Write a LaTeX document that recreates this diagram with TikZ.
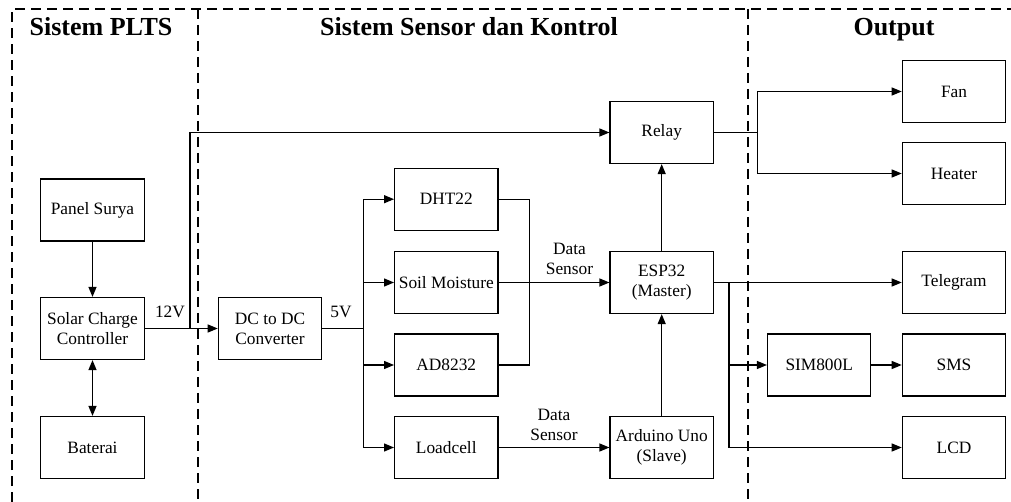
\documentclass[tikz,border=0pt]{standalone}
\usepackage{fontspec}
\setmainfont{Liberation Serif}
\usetikzlibrary{arrows.meta}
\begin{document}
\begin{tikzpicture}[x=0.75pt,y=-0.75pt,
  blk/.style={draw,line width=0.9pt,minimum width=77.5pt,minimum height=46.5pt,inner sep=1pt,align=center,font=\fontsize{13}{15}\selectfont},
  wire/.style={line width=0.9pt},
  arr/.style={wire,-{Triangle[length=7.5pt,width=6pt]}},
  darr/.style={wire,{Triangle[length=7.5pt,width=6pt]}-{Triangle[length=7.5pt,width=6pt]}},
  frame/.style={line width=0.8pt,dash pattern=on 7.5pt off 4.5pt},
  ttl/.style={font=\fontsize{19.5}{22}\selectfont\bfseries,anchor=base},
  lbl/.style={font=\fontsize{13}{15.5}\selectfont,align=center}]
\useasboundingbox (0,0) rectangle (1011,502);
% frame
\draw[frame] (12,502) -- (12,9) -- (1011,9);
\draw[frame] (198,9) -- (198,502);
\draw[frame] (748,9) -- (748,502);
\node[ttl] (t1) at (101,36) {Sistem PLTS};
\node[ttl] (t2) at (469,36) {Sistem Sensor dan Kontrol};
\node[ttl] (t3) at (894,36) {Output};
% blocks
\node[blk] (panel) at (92.5,210) {Panel Surya};
\node[blk] (scc) at (92.5,328.5) {Solar Charge\\Controller};
\node[blk] (bat) at (92.5,447.5) {Baterai};
\node[blk] (dcdc) at (270,328.5) {DC to DC\\Converter};
\node[blk] (dht) at (446.3,199.2) {DHT22};
\node[blk] (soil) at (446.3,282.5) {Soil Moisture};
\node[blk] (ad) at (446.3,365) {AD8232};
\node[blk] (load) at (446.3,447.5) {Loadcell};
\node[blk] (relay) at (661.7,132.5) {Relay};
\node[blk] (esp) at (661.7,282.5) {ESP32\\(Master)};
\node[blk] (ard) at (661.7,447.5) {Arduino Uno\\(Slave)};
\node[blk] (fan) at (954,91.5) {Fan};
\node[blk] (heat) at (954,173.5) {Heater};
\node[blk] (tele) at (954,282.5) {Telegram};
\node[blk] (sim) at (819.2,365) {SIM800L};
\node[blk] (sms) at (954,365) {SMS};
\node[blk] (lcd) at (954,447.5) {LCD};
% junctions
\coordinate (j12) at (190,328.5);
\coordinate (b5) at (363.3,328.5);
\coordinate (d1) at (529.3,282.5);
\coordinate (r1) at (757.3,132.5);
\coordinate (e1) at (729,282.5);
% connectors
\draw[arr] (panel) -- (scc);
\draw[darr] (scc) -- (bat);
\draw[arr] (scc.east) -- (dcdc.west);
\draw[arr] (j12) |- (relay.west);
\node[lbl] (l12) at (170,312) {12V};
\draw[wire] (dcdc.east) -- (b5);
\node[lbl] (l5) at (341,312) {5V};
\draw[arr] (b5) |- (dht.west);
\draw[arr] (b5) |- (soil.west);
\draw[arr] (b5) |- (ad.west);
\draw[arr] (b5) |- (load.west);
\draw[wire] (dht.east) -| (d1);
\draw[wire] (ad.east) -| (d1);
\draw[arr] (soil.east) -- (esp.west);
\node[lbl] (ld1) at (569.5,259) {Data\\Sensor};
\draw[arr] (load.east) -- (ard.west);
\node[lbl] (ld2) at (554,425) {Data\\Sensor};
\draw[arr] (ard) -- (esp);
\draw[arr] (esp) -- (relay);
\draw[wire] (relay.east) -- (r1);
\draw[arr] (r1) |- (fan.west);
\draw[arr] (r1) |- (heat.west);
\draw[arr] (esp.east) -- (tele.west);
\draw[arr] (e1) |- (sim.west);
\draw[arr] (e1) |- (lcd.west);
\draw[arr] (sim) -- (sms);
\end{tikzpicture}
\end{document}
